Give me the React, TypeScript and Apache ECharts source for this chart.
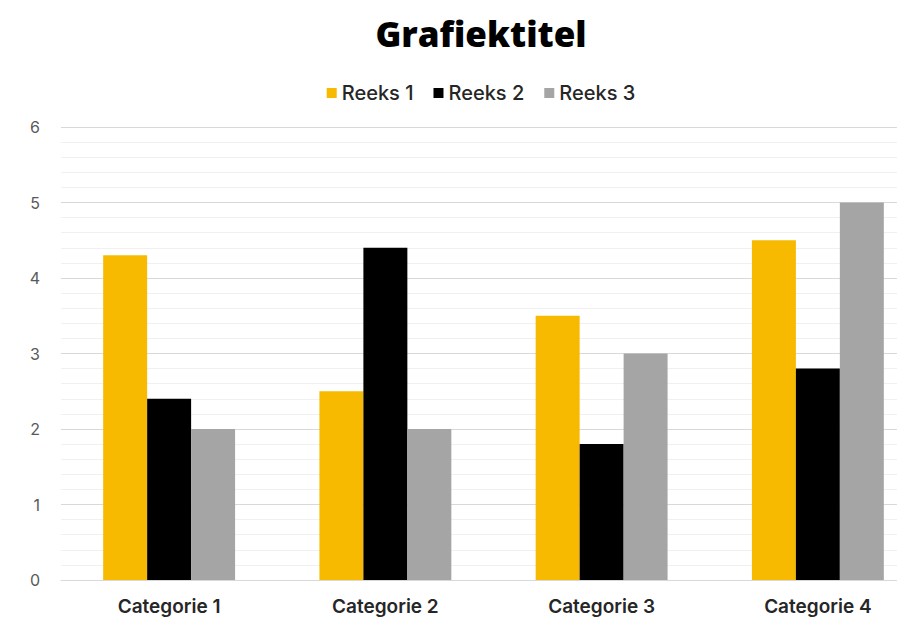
import React, { useEffect, useRef } from "react";
import * as echarts from "echarts";

const categories = ["Categorie 1", "Categorie 2", "Categorie 3", "Categorie 4"];
const reeks1 = [4.3, 2.5, 3.5, 4.5];
const reeks2 = [2.4, 4.4, 1.8, 2.8];
const reeks3 = [2, 2, 3, 5];
const seriesNames = ["Reeks 1", "Reeks 2", "Reeks 3"];
const colors = ["#F7BA00", "#000000", "#A5A5A5"];

export default function App() {
  const ref = useRef<HTMLDivElement>(null);
  useEffect(() => {
    if (!ref.current) return;
    const chart = echarts.init(ref.current, undefined, { renderer: "svg" });
    const data = [reeks1, reeks2, reeks3];
    chart.setOption({
      animation: false,
      backgroundColor: "#ffffff",
      color: colors,
      title: {
        text: "Grafiektitel",
        left: "center",
        top: 11,
        textStyle: {
          fontFamily: "Open Sans",
          fontWeight: 800,
          fontSize: 35,
          color: "#000000",
        },
      },
      legend: {
        data: seriesNames,
        left: "center",
        top: 78,
        icon: "rect",
        itemWidth: 10,
        itemHeight: 10,
        itemGap: 20,
        textStyle: {
          fontFamily: "Inter",
          fontSize: 20,
          fontWeight: 500,
          color: "#262626",
        },
      },
      grid: { left: 61, right: 36, top: 127, bottom: 40, containLabel: false },
      xAxis: {
        type: "category",
        data: categories,
        axisLine: { show: true, lineStyle: { color: "#d9d9d9" } },
        axisTick: { show: false },
        axisLabel: {
          fontFamily: "Inter",
          fontSize: 19,
          fontWeight: 600,
          color: "#262626",
          margin: 17,
        },
      },
      yAxis: {
        type: "value",
        min: 0,
        max: 6,
        interval: 1,
        axisLine: { show: false },
        axisTick: { show: false },
        axisLabel: {
          fontFamily: "Inter",
          fontSize: 16,
          color: "#595959",
          margin: 21,
        },
        splitLine: { show: true, lineStyle: { color: "#d9d9d9", width: 1 } },
        minorTick: { show: false, splitNumber: 5 },
        minorSplitLine: { show: true, lineStyle: { color: "#f0f0f0", width: 1 } },
      },
      series: seriesNames.map((name, i) => ({
        name,
        type: "bar",
        data: data[i],
        barGap: "0%",
        barCategoryGap: "39%",
        itemStyle: { color: colors[i] },
      })),
    });
    return () => chart.dispose();
  }, []);
  return (
    <div
      style={{
        position: "fixed",
        left: 0,
        top: 0,
        width: 897,
        height: 620,
        overflow: "hidden",
        background: "#fff",
      }}
    >
      <div ref={ref} style={{ width: 962, height: 620 }} />
    </div>
  );
}
